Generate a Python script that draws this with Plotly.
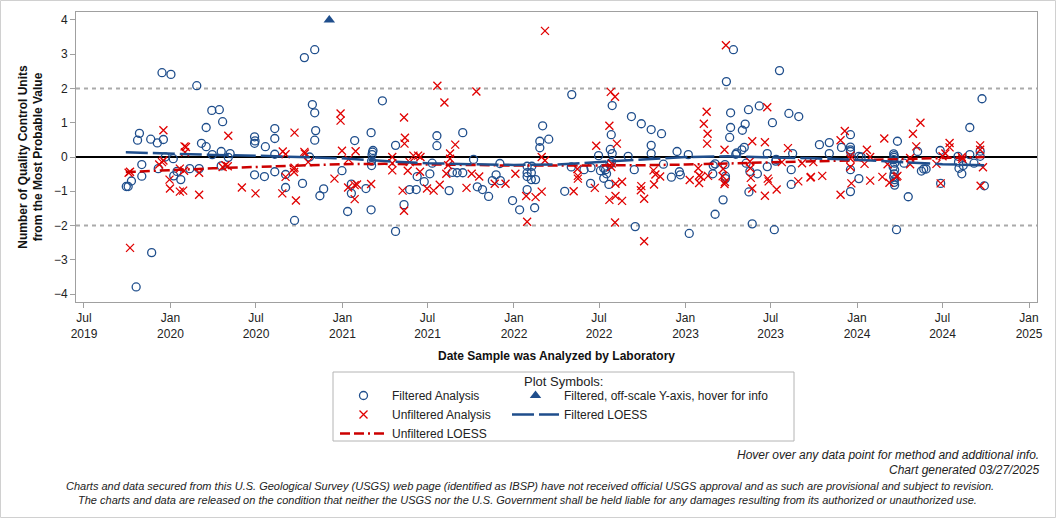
import plotly.graph_objects as go

# ---------------- data ----------------
filtered_dates = [
    "2019-10-27","2019-10-23","2019-11-20","2019-12-04","2019-12-17","2019-12-14","2020-01-02","2020-02-26",
    "2020-03-29","2020-04-14","2020-04-21","2020-03-17","2020-03-07","2020-03-17","2020-03-30","2020-04-18",
    "2020-05-07","2020-05-03","2020-01-07","2019-12-21","2019-11-01","2019-11-01","2019-10-10","2019-09-29",
    "2019-10-03","2019-12-06","2020-01-08","2020-01-23","2020-02-11","2020-03-02","2019-11-22","2019-10-20",
    "2020-04-18","2020-01-15",
    "2020-10-12","2020-11-03","2020-10-29","2020-11-03","2020-11-05","2020-11-03","2021-03-27","2020-08-10",
    "2020-08-10","2020-06-28","2020-06-28","2020-06-29","2020-07-21","2020-08-10","2020-10-23","2021-01-27",
    "2021-03-03","2021-03-07","2021-03-06","2021-03-05","2021-03-04","2021-03-04","2021-04-24","2020-06-28",
    "2020-07-19","2020-08-10","2020-09-02","2020-09-02","2020-10-08","2020-11-14","2020-11-22","2020-12-31",
    "2021-01-20","2021-01-20","2021-01-12","2021-02-20","2021-03-03","2020-09-21","2021-04-24",
    "2021-07-21","2021-07-21","2021-09-14","2021-07-11","2021-07-06","2021-06-09","2021-06-24","2021-05-24",
    "2021-06-07","2021-05-12","2021-08-16","2021-08-23","2021-09-02","2021-09-14","2021-10-07","2021-10-15",
    "2021-10-26","2021-11-08","2021-11-24","2021-11-16","2021-12-03","2021-12-02","2021-12-29","2022-01-13",
    "2022-01-29","2022-02-08","2022-01-29","2022-02-07","2022-01-29","2022-02-07","2022-02-16","2022-01-29",
    "2022-02-14","2022-02-25","2022-02-25","2022-03-03","2022-03-16",
    "2022-05-04","2022-07-29","2022-09-08","2022-09-29","2022-10-20","2022-11-11","2022-07-27","2022-07-25",
    "2022-07-29","2022-06-30","2022-09-01","2022-10-20","2022-10-20","2022-12-14","2023-01-07","2023-03-01",
    "2023-02-28","2023-03-05","2022-05-03","2022-05-30","2022-06-14","2022-07-04","2022-07-11","2022-07-15",
    "2022-07-17","2022-07-11","2022-07-22","2022-07-27","2022-07-24","2022-06-13","2022-04-19","2022-09-14",
    "2022-09-16","2022-11-15","2022-12-02","2022-12-19","2022-12-21","2023-01-09",
    "2023-04-13","2023-03-29","2023-07-20","2023-04-07","2023-05-15","2023-06-07","2023-08-09","2023-08-30",
    "2023-07-05","2023-04-07","2023-05-08","2023-05-02","2023-04-05","2023-05-01","2023-05-06","2023-04-20",
    "2023-04-18","2023-06-24","2023-07-13","2023-07-12","2023-08-17","2023-10-13","2023-11-03","2023-11-03",
    "2023-11-29","2023-12-18","2023-12-18","2023-12-18","2023-12-18","2024-01-05","2024-01-10","2023-03-05",
    "2023-03-26","2023-03-27","2023-03-27","2023-03-22","2023-05-10","2023-05-18","2023-06-03","2023-05-16",
    "2023-05-23","2023-06-24","2023-08-14","2023-08-14","2023-07-09","2023-12-18","2023-12-18","2024-01-05",
    "2024-09-23","2024-08-28","2024-03-27","2024-05-09","2024-06-26","2024-03-19","2024-03-20","2024-03-20",
    "2024-03-19","2024-03-21","2024-03-18","2024-03-21","2024-03-20","2024-03-19","2024-03-21","2024-03-20",
    "2024-03-21","2024-04-19","2024-03-25","2024-04-10","2024-05-17","2024-05-22","2024-05-27","2024-06-27",
    "2024-08-03","2024-08-04","2024-08-05","2024-08-11","2024-08-14","2024-08-28","2024-09-06","2024-09-19",
    "2024-09-19","2024-09-28",
]
filtered_values = [
    0.69,0.49,0.52,0.41,0.51,2.46,2.41,2.08,
    1.36,1.38,1.03,0.86,0.40,0.30,0.07,0.16,
    0.10,-0.01,-0.05,0.00,-0.22,-0.56,-0.70,-0.86,
    -0.86,-0.34,-0.55,-0.66,-0.34,-0.34,-2.79,-3.79,
    -0.26,-0.42,
    2.90,3.13,1.53,1.29,0.77,0.49,1.64,0.83,
    0.54,0.59,0.40,0.47,0.30,0.08,0.00,0.48,
    0.71,0.19,0.14,0.07,-0.12,-0.25,0.34,-0.52,
    -0.57,-0.43,-0.51,-0.89,-0.77,-1.13,-0.93,-0.40,
    -0.79,-1.06,-1.59,-0.92,-1.54,-1.85,-2.17,
    0.62,0.33,0.71,-0.18,-0.49,-0.57,-0.72,-0.95,
    -0.95,-1.39,-0.98,-0.45,-0.46,-0.46,-0.07,-0.87,
    -0.95,-1.15,-0.52,-0.69,-0.69,-0.19,-1.27,-1.54,
    -0.27,-0.27,-0.46,-0.46,-0.57,-0.66,-0.66,-0.95,
    -1.48,0.46,0.27,0.91,0.52,
    1.82,1.50,1.18,0.97,0.80,0.68,0.65,0.22,
    0.10,0.04,0.02,0.34,0.10,0.16,0.07,-0.25,
    -0.49,-1.67,-0.29,-0.37,-0.31,-0.40,-0.33,-0.37,
    -0.49,-0.62,-0.80,-0.16,-0.22,-0.77,-1.00,-0.37,
    -2.03,-0.21,-0.59,-0.43,-0.52,-2.23,
    3.13,2.20,2.52,1.29,1.38,1.49,1.27,1.18,
    1.00,0.86,0.96,0.78,0.57,0.21,0.28,0.12,
    0.08,0.10,-0.07,-0.12,0.10,0.36,0.42,0.10,
    0.28,0.65,0.29,0.21,0.16,0.02,0.00,-0.20,
    -0.22,-0.56,-0.63,-1.25,-0.18,-0.42,-0.49,-1.02,
    -1.95,-0.28,-0.37,-0.80,-2.12,-0.37,-1.01,-0.63,
    1.70,0.86,0.46,0.16,0.19,0.09,0.04,-0.01,
    -0.08,-0.18,-0.29,-0.37,-0.49,-0.58,-0.66,-0.74,
    -0.82,-1.16,-2.12,-0.18,-0.41,-0.35,-0.35,-0.77,
    0.02,-0.15,-0.33,-0.49,-0.25,0.07,-0.18,0.17,
    0.02,-0.84,
]

unfiltered_dates = [
    "2019-12-17","2020-05-03","2020-01-31","2020-02-03","2020-02-01","2019-12-14","2019-12-17","2019-12-08",
    "2019-10-04","2019-10-07","2020-01-21","2020-01-30","2020-03-02","2019-12-30","2019-12-31","2020-01-21",
    "2020-01-28","2020-03-02","2020-04-21","2020-04-27","2020-05-02","2019-10-07",
    "2020-12-28","2020-12-28","2020-09-21","2020-08-27","2020-09-02","2020-10-12","2020-10-13","2020-10-20",
    "2020-12-31","2021-01-29","2021-01-14","2020-09-19","2020-09-21","2020-09-20","2020-09-02","2020-06-01",
    "2020-06-30","2020-08-26","2020-09-24","2020-12-15","2021-01-13","2021-01-27","2021-02-01","2021-01-27",
    "2021-03-03","2021-04-17","2021-04-17","2021-04-17",
    "2022-03-08","2021-07-22","2021-10-13","2021-08-06","2021-05-12","2021-05-14","2021-05-13","2021-08-29",
    "2021-08-18","2021-08-18","2021-08-14","2021-06-01","2021-06-11","2021-06-16","2021-05-24","2021-05-20",
    "2021-06-15","2021-05-09","2021-05-12","2021-06-30","2021-07-14","2021-07-27","2021-08-10","2021-10-03",
    "2021-10-19","2021-09-22","2021-11-21","2021-12-14","2022-01-04","2022-01-27","2022-02-16","2022-03-01",
    "2022-01-29","2022-03-01","2022-03-08",
    "2022-07-26","2022-08-04","2022-07-23","2022-08-08","2022-06-25","2023-02-15","2023-02-09","2023-02-17",
    "2023-02-16","2022-05-16","2022-05-17","2022-05-17","2022-05-08","2022-06-22","2022-07-28","2022-07-27",
    "2022-08-05","2022-08-19","2022-07-23","2022-08-05","2022-08-19","2022-08-04","2022-09-29","2022-09-28",
    "2022-10-05","2022-10-25","2022-10-29","2022-11-08","2022-10-26","2022-10-05","2023-01-10","2023-01-28",
    "2023-01-30","2023-01-30","2023-02-03","2023-02-18",
    "2023-03-28","2023-06-24","2023-03-25","2023-05-23","2023-06-19","2023-08-07","2023-12-06","2023-11-27",
    "2023-12-18","2023-12-18","2023-12-18","2024-01-22","2024-01-29","2024-01-17","2023-03-22","2023-03-21",
    "2023-03-26","2023-03-25","2023-05-18","2023-05-19","2023-05-20","2023-05-23","2023-06-19","2023-07-14",
    "2023-06-25","2023-06-27","2023-07-25","2023-08-29","2023-09-06","2023-09-24","2023-09-25","2023-09-30",
    "2023-10-19","2023-11-27","2023-12-20","2024-01-29",
    "2024-05-15","2024-02-28","2024-04-29","2024-05-06","2024-07-16","2024-07-16","2024-07-07","2024-07-01",
    "2024-09-19","2024-09-19","2024-08-11","2024-08-12","2024-04-23","2024-04-23","2024-03-06","2024-02-24",
    "2024-03-10","2024-03-25","2024-03-27","2024-06-18","2024-06-27","2024-09-25","2024-09-20",
]
unfiltered_values = [
    0.78,0.62,0.31,0.29,0.14,-0.15,-0.10,-0.22,
    -0.46,-0.43,-0.34,-0.40,-0.46,-0.66,-0.92,-1.01,
    -0.98,-1.10,-0.29,-0.24,-0.27,-2.65,
    1.27,1.06,0.71,0.16,0.08,0.15,0.10,-0.15,
    0.18,0.17,-0.07,-0.34,-0.31,-0.44,-0.58,-0.89,
    -1.06,-1.06,-1.27,-0.63,-0.89,-0.82,-0.80,-1.23,
    -0.79,0.00,-0.18,-0.39,
    3.68,2.08,1.91,1.59,1.15,0.56,0.39,0.36,
    0.10,-0.05,-0.24,0.04,0.04,0.00,-0.15,-0.40,
    -0.43,-0.98,-1.57,-0.92,-0.98,-0.81,-0.49,-0.49,
    -0.57,-0.90,-0.78,-0.78,-0.49,-1.14,-1.17,-1.01,
    -1.89,0.00,-0.10,
    1.90,1.76,0.91,0.39,0.33,1.32,0.97,0.68,
    0.39,-0.35,-0.55,-0.63,-1.00,-0.90,-0.19,-0.29,
    -0.78,-0.72,-1.25,-1.14,-1.28,-1.91,-0.85,-0.97,
    -1.22,-0.39,-0.51,-0.57,-0.80,-2.46,-0.67,-0.33,
    -0.54,-0.76,-0.58,-0.55,
    3.26,1.45,0.21,0.46,0.43,0.26,0.76,0.49,
    0.04,-0.05,-0.29,0.21,0.00,-0.20,-0.35,-0.56,
    -0.73,-0.79,-0.13,-0.33,-0.61,-0.92,-1.13,-0.95,
    -0.63,-0.71,-0.15,-0.71,-0.18,-0.60,-0.58,-0.15,
    -0.55,-1.10,-0.77,-0.69,
    1.00,0.54,0.68,0.31,0.41,0.28,0.10,0.02,
    0.34,0.21,0.00,-0.05,-0.03,-0.21,-0.21,-0.58,
    -0.75,-0.58,-0.55,-0.20,-0.77,-0.30,-0.84,
]

offscale_dates = ["2020-12-04"]
offscale_values = [4.0]

loess_filtered_dates = [
    "2019-09-28","2020-01-01","2020-04-01","2020-07-01","2020-10-01","2021-01-01","2021-04-01",
    "2021-07-01","2021-10-01","2022-01-01","2022-04-01","2022-07-01","2022-10-01","2023-01-01",
    "2023-04-01","2023-07-01","2023-10-01","2024-01-01","2024-04-01","2024-07-01","2024-09-28",
]
loess_filtered_values = [
    0.14,0.09,0.06,0.04,0.01,-0.04,-0.12,
    -0.18,-0.21,-0.23,-0.22,-0.15,-0.06,0.00,
    0.02,0.00,-0.04,-0.08,-0.14,-0.21,-0.24,
]
loess_unfiltered_dates = loess_filtered_dates
loess_unfiltered_values = [
    -0.44,-0.38,-0.33,-0.29,-0.25,-0.21,-0.20,
    -0.22,-0.24,-0.25,-0.25,-0.25,-0.24,-0.22,
    -0.19,-0.16,-0.12,-0.08,-0.05,-0.02,0.00,
]

x_tick_dates = ["2019-07-01","2020-01-01","2020-07-01","2021-01-01","2021-07-01","2022-01-01",
                "2022-07-01","2023-01-01","2023-07-01","2024-01-01","2024-07-01","2025-01-01"]
x_tick_labels = ["Jul<br>2019","Jan<br>2020","Jul<br>2020","Jan<br>2021","Jul<br>2021","Jan<br>2022",
                 "Jul<br>2022","Jan<br>2023","Jul<br>2023","Jan<br>2024","Jul<br>2024","Jan<br>2025"]
y_ticks = [-4, -3, -2, -1, 0, 1, 2, 3, 4]

# ---------------- styling ----------------
FONT = "Liberation Sans, Arial, sans-serif"
BLUE = "#1F4E8C"
RED = "#E00000"
RED_LINE = "#CC0000"
GRAY = "#A0A0A0"

W, H = 1056, 518
ML, MR, MT, MB = 76, 19, 12, 216
PW, PH = W - ML - MR, H - MT - MB


def px(x):
    return (x - ML) / PW


def py(y):
    return (H - MB - y) / PH


fig = go.Figure()

fig.add_trace(go.Scatter(
    x=filtered_dates, y=filtered_values, mode="markers", name="Filtered Analysis",
    marker=dict(symbol="circle-open", size=8, color=BLUE, line=dict(width=1.3)),
    legend="legend",
))
fig.add_trace(go.Scatter(
    x=unfiltered_dates, y=unfiltered_values, mode="markers", name="Unfiltered Analysis",
    marker=dict(symbol="x-thin-open", size=8, color=RED, line=dict(width=1.3, color=RED)),
    legend="legend",
))
fig.add_trace(go.Scatter(
    x=loess_unfiltered_dates, y=loess_unfiltered_values, mode="lines", name="Unfiltered LOESS",
    line=dict(color=RED_LINE, width=2.5, dash="10px,4px,10px,4px,2px,4px"),
    legend="legend",
))
fig.add_trace(go.Scatter(
    x=offscale_dates, y=offscale_values, mode="markers", name="Filtered, off-scale Y-axis, hover for info",
    marker=dict(symbol="triangle-up", size=10, color=BLUE),
    legend="legend2", cliponaxis=False,
))
fig.add_trace(go.Scatter(
    x=loess_filtered_dates, y=loess_filtered_values, mode="lines", name="Filtered LOESS",
    line=dict(color=BLUE, width=2.5, dash="22px,5px"),
    legend="legend2",
))

shapes = [
    dict(type="line", xref="paper", yref="y", x0=0, x1=1, y0=0, y1=0,
         line=dict(color="black", width=2), layer="below"),
    dict(type="line", xref="paper", yref="y", x0=0, x1=1, y0=2, y1=2,
         line=dict(color="#AAAAAA", width=2, dash="4px,4px"), layer="below"),
    dict(type="line", xref="paper", yref="y", x0=0, x1=1, y0=-2, y1=-2,
         line=dict(color="#AAAAAA", width=2, dash="4px,4px"), layer="below"),
    # legend frame
    dict(type="rect", xref="paper", yref="paper", x0=px(333), x1=px(794), y0=py(441), y1=py(372),
         line=dict(color="#B4B4B4", width=1)),
    # outer frame
    dict(type="rect", xref="paper", yref="paper", x0=px(0.5), x1=px(W - 0.5), y0=py(H - 0.5), y1=py(0.5),
         line=dict(color="#D0D0D0", width=1)),
]

annotations = [
    dict(text="Plot Symbols:", xref="paper", yref="paper", x=px(563.5), y=py(381),
         xanchor="center", yanchor="middle", showarrow=False, font=dict(size=13, color="#222", family=FONT)),
    dict(text="<i>Hover over any data point for method and additional info.</i>", xref="paper", yref="paper",
         x=px(1041), y=py(455), xanchor="right", yanchor="middle", showarrow=False,
         font=dict(size=12, color="#222", family=FONT)),
    dict(text="<i>Chart generated 03/27/2025</i>", xref="paper", yref="paper",
         x=px(1041), y=py(470), xanchor="right", yanchor="middle", showarrow=False,
         font=dict(size=12, color="#222", family=FONT)),
    dict(text="<i>Charts and data secured from this U.S. Geological Survey (USGS) web page (identified as IBSP) have not received official USGS approval and as such are provisional and subject to revision.</i>",
         xref="paper", yref="paper", x=px(530), y=py(486), xanchor="center", yanchor="middle", showarrow=False,
         font=dict(size=11, color="#222", family=FONT)),
    dict(text="<i>The charts and data are released on the condition that neither the USGS nor the U.S. Government shall be held liable for any damages resulting from its authorized or unauthorized use.</i>",
         xref="paper", yref="paper", x=px(527), y=py(500), xanchor="center", yanchor="middle", showarrow=False,
         font=dict(size=11, color="#222", family=FONT)),
]

fig.update_layout(
    width=W, height=H, autosize=False,
    margin=dict(l=ML, r=MR, t=MT, b=MB, autoexpand=False),
    paper_bgcolor="white", plot_bgcolor="white",
    font=dict(family=FONT, size=12, color="#222"),
    shapes=shapes, annotations=annotations,
    hovermode="closest",
    legend=dict(x=px(335), y=py(381), xanchor="left", yanchor="top", itemwidth=47,
                bgcolor="rgba(0,0,0,0)", borderwidth=0, font=dict(size=12, family=FONT, color="#222"),
                traceorder="normal"),
    legend2=dict(x=px(507), y=py(381), xanchor="left", yanchor="top", itemwidth=47,
                 bgcolor="rgba(0,0,0,0)", borderwidth=0, font=dict(size=12, family=FONT, color="#222"),
                 traceorder="normal"),
    xaxis=dict(
        type="date", range=["2019-06-14", "2025-01-18"],
        tickmode="array", tickvals=x_tick_dates, ticktext=x_tick_labels,
        ticks="outside", ticklen=5, tickcolor=GRAY, tickfont=dict(size=12, family=FONT, color="#222"),
        showline=True, linecolor=GRAY, linewidth=1, mirror=True,
        showgrid=False, zeroline=False,
        title=dict(text="<b>Date Sample was Analyzed by Laboratory</b>", font=dict(size=12, family=FONT, color="#111"),
                   standoff=11),
    ),
    yaxis=dict(
        range=[-4.23, 4.23], tickmode="array", tickvals=y_ticks,
        ticks="outside", ticklen=5, tickcolor=GRAY, tickfont=dict(size=12, family=FONT, color="#222"),
        showline=True, linecolor=GRAY, linewidth=1, mirror=True,
        showgrid=False, zeroline=False,
        title=dict(text="<b>Number of Quality Control Units<br>from the Most Probable Value</b>",
                   font=dict(size=12, family=FONT, color="#111"), standoff=8),
    ),
)

fig.write_html("out.html")
